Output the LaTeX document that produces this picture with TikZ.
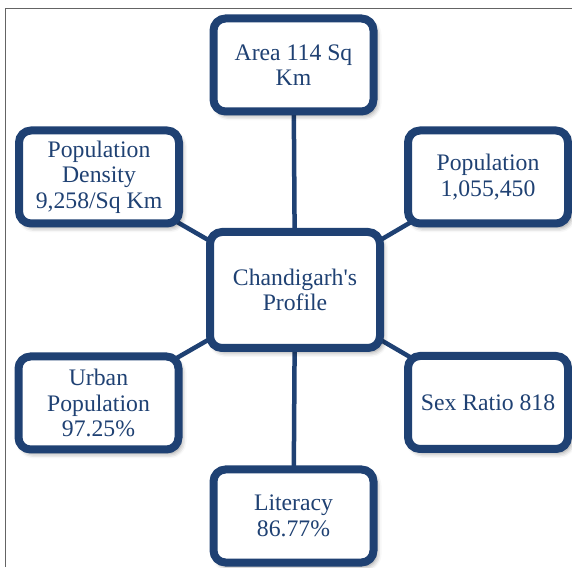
\documentclass[tikz,border=0pt]{standalone}
\usepackage{fontspec}
\setmainfont{Liberation Serif}[Ligatures=TeXOff]
\usetikzlibrary{shadows.blur,backgrounds}
\definecolor{navy}{RGB}{31,65,115}
\definecolor{framegray}{RGB}{100,100,100}
\tikzset{
  infobox/.style={draw=navy, line width=8pt, rounded corners=12pt, fill=white,
    minimum width=160pt, minimum height=93pt, inner sep=2pt, align=center,
    text=navy, font=\fontsize{23.7pt}{25.5pt}\selectfont,
    blur shadow={shadow xshift=3pt, shadow yshift=-4pt, shadow blur radius=5pt, shadow opacity=45}},
  hubbox/.style={infobox, minimum width=170pt, minimum height=116pt},
  spoke/.style={draw=navy, line width=4.5pt}
}
\begin{document}
\begin{tikzpicture}[x=1pt,y=1pt]
  \useasboundingbox (0,0) rectangle (572,567);
  % page frame
  \draw[framegray, line width=1.2pt] (5.5,0) -- (5.5,558.5) -- (572,558.5);

  % profile boxes
  \node[hubbox]  (hub)   at (295,277)   {Chandigarh's\\Profile};
  \node[infobox] (area)  at (293.5,502) {Area 114 Sq\\Km};
  \node[infobox] (dens)  at (99,390)    {Population\\Density\\9,258/Sq Km};
  \node[infobox] (pop)   at (488,390)   {Population\\1,055,450};
  \node[infobox] (urban) at (98.5,164)  {Urban\\Population\\97.25\%};
  \node[infobox] (sex)   at (488,164.5) {Sex Ratio 818};
  \node[infobox] (lit)   at (293.5,51)  {Literacy\\86.77\%};

  % spokes from the hub, kept behind the boxes
  \begin{pgfonlayer}{background}
    \foreach \n in {area,dens,pop,urban,sex,lit}
      \draw[spoke] (hub.center) -- (\n.center);
  \end{pgfonlayer}
\end{tikzpicture}
\end{document}
